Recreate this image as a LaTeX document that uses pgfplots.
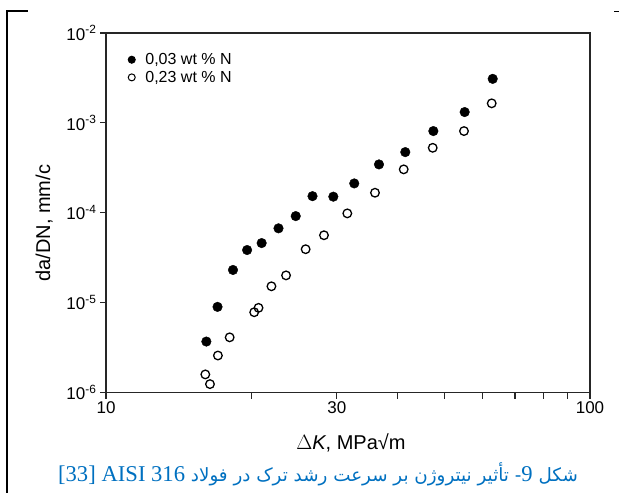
\documentclass[border=0pt]{standalone}
\usepackage{fontspec}
\setmainfont{Liberation Sans}
\newfontfamily\capserif{Liberation Serif}
\newfontfamily\arabicfont[Script=Arabic]{DejaVu Sans}
\usepackage{xcolor}
\usepackage{pgfplots}
\pgfplotsset{compat=1.18}
\TeXXeTstate=1
\definecolor{capblue}{RGB}{0,112,192}

\begin{document}
\begin{tikzpicture}
% page size of the reference, 1px = 1pt
\path[use as bounding box] (0pt,0pt) rectangle (619pt,493pt);
% remains of the page frame
\draw[line width=2.3pt] (7pt,0pt) -- (7pt,482pt) -- (28pt,482pt);
\draw[line width=1pt] (614pt,481pt) -- (619pt,481pt);

\begin{axis}[
    at={(106pt,100.5pt)}, anchor=south west,
    width=484pt, height=359.5pt, scale only axis,
    xmode=log, ymode=log,
    xmin=10, xmax=100, ymin=1e-6, ymax=1e-2,
    axis line style={line width=1.2pt, black!85},
    tick style={line width=1.1pt, black!85},
    tick align=outside, tick pos=left,
    major tick length=6pt, minor tick length=0pt,
    xtick={10,20,30,40,50,60,70,80,90,100},
    xticklabels={10,,30,,,,,,,100},
    ytick={1e-6,1e-5,1e-4,1e-3,1e-2},
    yticklabels={10\textsuperscript{-6},10\textsuperscript{-5},10\textsuperscript{-4},10\textsuperscript{-3},10\textsuperscript{-2}},
    /pgf/number format/assume math mode=true,
    ticklabel style={font=\fontsize{17}{20}\selectfont},
    xlabel={$\Delta$\textit{K}, MPa√m},
    ylabel={da/DN, mm/c},
    label style={font=\fontsize{20}{24}\selectfont},
    xlabel style={at={(axis description cs:0.506,-0.1397)}, anchor=center},
    ylabel style={at={(axis description cs:-0.128,0.471)}, anchor=center},
    legend style={at={(axis description cs:0.038,0.955)}, anchor=north west,
        draw=none, fill=none, font=\fontsize{16}{19}\selectfont,
        row sep=1pt},
    legend cell align=left,
    legend image code/.code={%
        \draw[#1, mark size=3.5pt, line width=1pt] plot coordinates {(0pt,0pt)};
        \path (-3.5pt,0pt) (11pt,0pt);},
]
\addplot[only marks, mark=*, mark size=4.8pt, black]
table[row sep=crcr]{
dk dadn\\
16.12 3.69e-6\\
17.00 8.97e-6\\
18.30 2.31e-5\\
19.57 3.85e-5\\
20.97 4.60e-5\\
22.72 6.71e-5\\
24.66 9.18e-5\\
26.71 1.53e-4\\
29.49 1.51e-4\\
32.58 2.12e-4\\
36.65 3.45e-4\\
41.53 4.73e-4\\
47.46 8.11e-4\\
55.09 1.32e-3\\
62.95 3.09e-3\\
};
\addplot[only marks, mark=o, mark size=4.3pt, line width=1.3pt, black, mark options={fill=white}]
table[row sep=crcr]{
dk dadn\\
16.04 1.59e-6\\
16.40 1.24e-6\\
17.03 2.58e-6\\
18.01 4.11e-6\\
20.24 7.82e-6\\
20.66 8.75e-6\\
21.97 1.52e-5\\
23.55 2.01e-5\\
25.85 3.93e-5\\
28.21 5.62e-5\\
31.52 9.84e-5\\
35.96 1.67e-4\\
41.22 3.04e-4\\
47.32 5.28e-4\\
54.91 8.11e-4\\
62.65 1.65e-3\\
};
\legend{{0,03 wt \% N},{0,23 wt \% N}}
\end{axis}

\node[text=capblue, anchor=center] at (318pt,19pt)
  {\fontsize{18.3}{22}\selectfont\arabicfont\beginR شکل {\capserif\fontsize{22.6}{26}\selectfont 9}- تأثیر نیتروژن بر سرعت رشد ترک در فولاد \beginL{\capserif\fontsize{22.6}{26}\selectfont AISI 316}\endL{} \beginL{\capserif\fontsize{22.6}{26}\selectfont [33]}\endL\endR};
\end{tikzpicture}
\end{document}
